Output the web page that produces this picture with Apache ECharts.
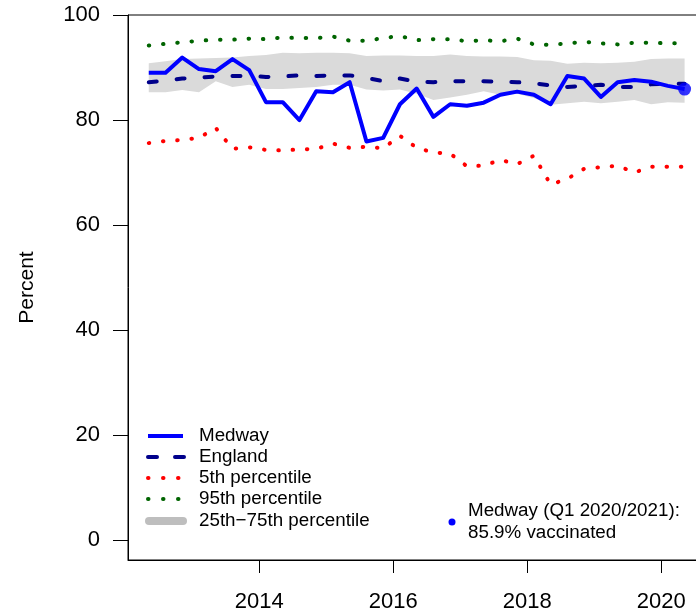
<!DOCTYPE html>
<html>
<head>
<meta charset="utf-8">
<script src="https://cdn.jsdelivr.net/npm/echarts@6/dist/echarts.min.js"></script>
<style>
html,body{margin:0;padding:0;background:#fff;overflow:hidden;width:696px;height:613px;}
#chart{width:702px;height:613px;}
</style>
</head>
<body>
<div id="chart"></div>
<script>
// Quarter positions (decimal years), Q1 2012/13 .. Q1 2020/21
const quarters = [2012.35, 2012.6, 2012.85, 2013.1, 2013.35, 2013.6, 2013.85, 2014.1, 2014.35, 2014.6, 2014.85,
  2015.1, 2015.35, 2015.6, 2015.85, 2016.1, 2016.35, 2016.6, 2016.85, 2017.1, 2017.35, 2017.6, 2017.85,
  2018.1, 2018.35, 2018.6, 2018.85, 2019.1, 2019.35, 2019.6, 2019.85, 2020.1, 2020.35];
const medway = [89.0, 89.0, 91.9, 89.7, 89.3, 91.6, 89.5, 83.4, 83.4, 80.0, 85.5, 85.3, 87.2, 75.9, 76.6, 83.0,
  86.0, 80.6, 83.0, 82.7, 83.3, 84.8, 85.4, 84.8, 83.0, 88.4, 87.9, 84.4, 87.2, 87.6, 87.3, 86.5, 85.9];
const england = [87.2, 87.5, 87.9, 88.1, 88.3, 88.4, 88.4, 88.2, 88.3, 88.5, 88.4, 88.5, 88.5, 88.0, 87.4, 87.9,
  87.3, 87.2, 87.4, 87.4, 87.4, 87.3, 87.2, 87.0, 86.6, 86.3, 86.5, 86.7, 86.3, 86.3, 86.8, 86.9, 86.9];
const p5 = [75.6, 76.0, 76.2, 76.6, 78.5, 74.5, 74.8, 74.3, 74.2, 74.4, 74.5, 75.5, 74.7, 74.9, 74.6, 77.0,
  74.7, 73.8, 73.6, 71.2, 71.3, 72.4, 71.6, 73.2, 67.7, 68.8, 70.7, 71.0, 71.3, 70.0, 71.1, 71.1, 71.1];
const p95 = [94.2, 94.5, 94.8, 95.1, 95.3, 95.3, 95.5, 95.4, 95.7, 95.6, 95.6, 95.9, 95.1, 95.1, 95.6, 96.0,
  95.2, 95.4, 95.4, 95.0, 95.2, 95.0, 95.5, 94.4, 94.3, 94.6, 94.9, 94.6, 94.4, 94.7, 94.7, 94.6, 94.6];
const p25 = [85.3, 85.3, 85.7, 85.3, 87.4, 86.3, 86.7, 85.9, 85.9, 86.1, 86.3, 86.7, 86.7, 85.8, 85.6, 85.8,
  85.0, 83.8, 84.3, 84.8, 85.5, 84.8, 85.0, 84.2, 82.9, 83.2, 83.5, 83.2, 83.5, 83.8, 83.0, 83.4, 83.3];
const p75 = [90.8, 91.2, 91.6, 91.7, 91.8, 91.9, 92.2, 92.4, 92.8, 92.7, 92.8, 92.8, 92.7, 92.2, 92.3, 92.3,
  92.2, 92.2, 92.5, 92.2, 92.1, 92.1, 92.0, 91.4, 91.3, 90.7, 90.9, 90.8, 90.9, 91.1, 91.6, 91.7, 91.7];
const xTicks = [2014, 2016, 2018, 2020];
const yTicks = [0, 20, 40, 60, 80, 100];
const latestLabel = ['Medway (Q1 2020/2021):', '85.9% vaccinated'];
const legendNames = ['Medway', 'England', '5th percentile', '95th percentile', '25th\u221275th percentile'];

const FONT = '"Liberation Sans", Arial, Helvetica, sans-serif';
const LEGEND_FONT = '18.8px ' + FONT;
const pairs = arr => quarters.map((q, i) => [q, arr[i]]);
const chart = echarts.init(document.getElementById('chart'), null, {renderer: 'canvas'});

const lastIdx = quarters.length - 1;
const legendX = 148, textX = 199;
const rowY = [436, 457, 478, 499, 521];

const option = {
  animation: false,
  backgroundColor: '#fff',
  grid: {left: 128, top: 15, right: 0, bottom: 53, show: true, borderColor: '#000', borderWidth: 1,
    backgroundColor: 'transparent'},
  xAxis: {
    type: 'value', min: 2012.04, max: 2020.61, position: 'bottom',
    axisLine: {show: true, onZero: false, lineStyle: {color: '#000', width: 1}},
    axisTick: {show: true, length: 13, inside: false, customValues: xTicks, lineStyle: {color: '#000', width: 1}},
    axisLabel: {show: true, customValues: xTicks, margin: 31, color: '#000', fontSize: 22, fontFamily: FONT,
      formatter: v => String(v)},
    splitLine: {show: false}
  },
  yAxis: {
    type: 'value', min: -3.8, max: 100,
    name: 'Percent', nameLocation: 'middle', nameGap: 90, nameRotate: 90,
    nameTextStyle: {color: '#000', fontSize: 21, fontFamily: FONT},
    axisLine: {show: true, onZero: false, lineStyle: {color: '#000', width: 1}},
    axisTick: {show: true, length: 15, customValues: yTicks, lineStyle: {color: '#000', width: 1}},
    axisLabel: {show: true, customValues: yTicks, margin: 28, color: '#000', fontSize: 22, fontFamily: FONT},
    splitLine: {show: false}
  },
  series: [
    {
      type: 'custom', name: 'band', z: 1,
      data: quarters.map((q, i) => [q, p25[i], p75[i]]),
      renderItem: function (params, api) {
        if (params.dataIndex !== 0) return null;
        const pts = [];
        for (let i = 0; i < quarters.length; i++) pts.push(api.coord([quarters[i], p75[i]]));
        for (let i = quarters.length - 1; i >= 0; i--) pts.push(api.coord([quarters[i], p25[i]]));
        return {type: 'polygon', shape: {points: pts}, style: {fill: '#DADADA', stroke: null}};
      }
    },
    {
      type: 'line', name: 'England', data: pairs(england), showSymbol: false, z: 3,
      lineStyle: {color: '#00008B', width: 4, type: [8, 20], cap: 'round'}
    },
    {
      type: 'line', name: '5th', data: pairs(p5), showSymbol: false, z: 3,
      lineStyle: {color: '#FF0000', width: 4, type: [0.5, 13.8], cap: 'round'}
    },
    {
      type: 'line', name: '95th', data: pairs(p95), showSymbol: false, z: 3,
      lineStyle: {color: '#006400', width: 4, type: [0.5, 13.8], cap: 'round'}
    },
    {
      type: 'line', name: 'Medway', data: pairs(medway), showSymbol: false, z: 4,
      lineStyle: {color: '#0000FF', width: 4, join: 'round'}
    },
    {
      type: 'scatter', name: 'latest', z: 5,
      data: [[quarters[lastIdx], medway[lastIdx]]],
      symbol: 'circle', symbolSize: 13, itemStyle: {color: '#0000FF'}
    }
  ],
  graphic: [
    {type: 'line', shape: {x1: legendX, y1: rowY[0], x2: legendX + 35, y2: rowY[0]},
      style: {stroke: '#0000FF', lineWidth: 4}},
    {type: 'line', shape: {x1: legendX, y1: rowY[1], x2: legendX + 36, y2: rowY[1]},
      style: {stroke: '#00008B', lineWidth: 4, lineDash: [9, 18], lineCap: 'round'}},
    {type: 'line', shape: {x1: legendX, y1: rowY[2], x2: legendX + 36, y2: rowY[2]},
      style: {stroke: '#FF0000', lineWidth: 4, lineDash: [0.5, 14.5], lineCap: 'round'}},
    {type: 'line', shape: {x1: legendX, y1: rowY[3], x2: legendX + 36, y2: rowY[3]},
      style: {stroke: '#006400', lineWidth: 4, lineDash: [0.5, 14.5], lineCap: 'round'}},
    {type: 'line', shape: {x1: legendX + 1, y1: rowY[4], x2: legendX + 35, y2: rowY[4]},
      style: {stroke: '#BEBEBE', lineWidth: 8, lineCap: 'round'}},
    ...legendNames.map((n, i) => ({
      type: 'text', x: textX, y: rowY[i],
      style: {text: n, fill: '#000', font: LEGEND_FONT, textVerticalAlign: 'middle', textAlign: 'left'}
    })),
    {type: 'circle', shape: {cx: 452, cy: 522, r: 3.5}, style: {fill: '#0000FF'}},
    {type: 'text', x: 468, y: 511,
      style: {text: latestLabel[0], fill: '#000', font: LEGEND_FONT, textVerticalAlign: 'middle', textAlign: 'left'}},
    {type: 'text', x: 468, y: 533,
      style: {text: latestLabel[1], fill: '#000', font: LEGEND_FONT, textVerticalAlign: 'middle', textAlign: 'left'}}
  ]
};
chart.setOption(option);
</script>
</body>
</html>
